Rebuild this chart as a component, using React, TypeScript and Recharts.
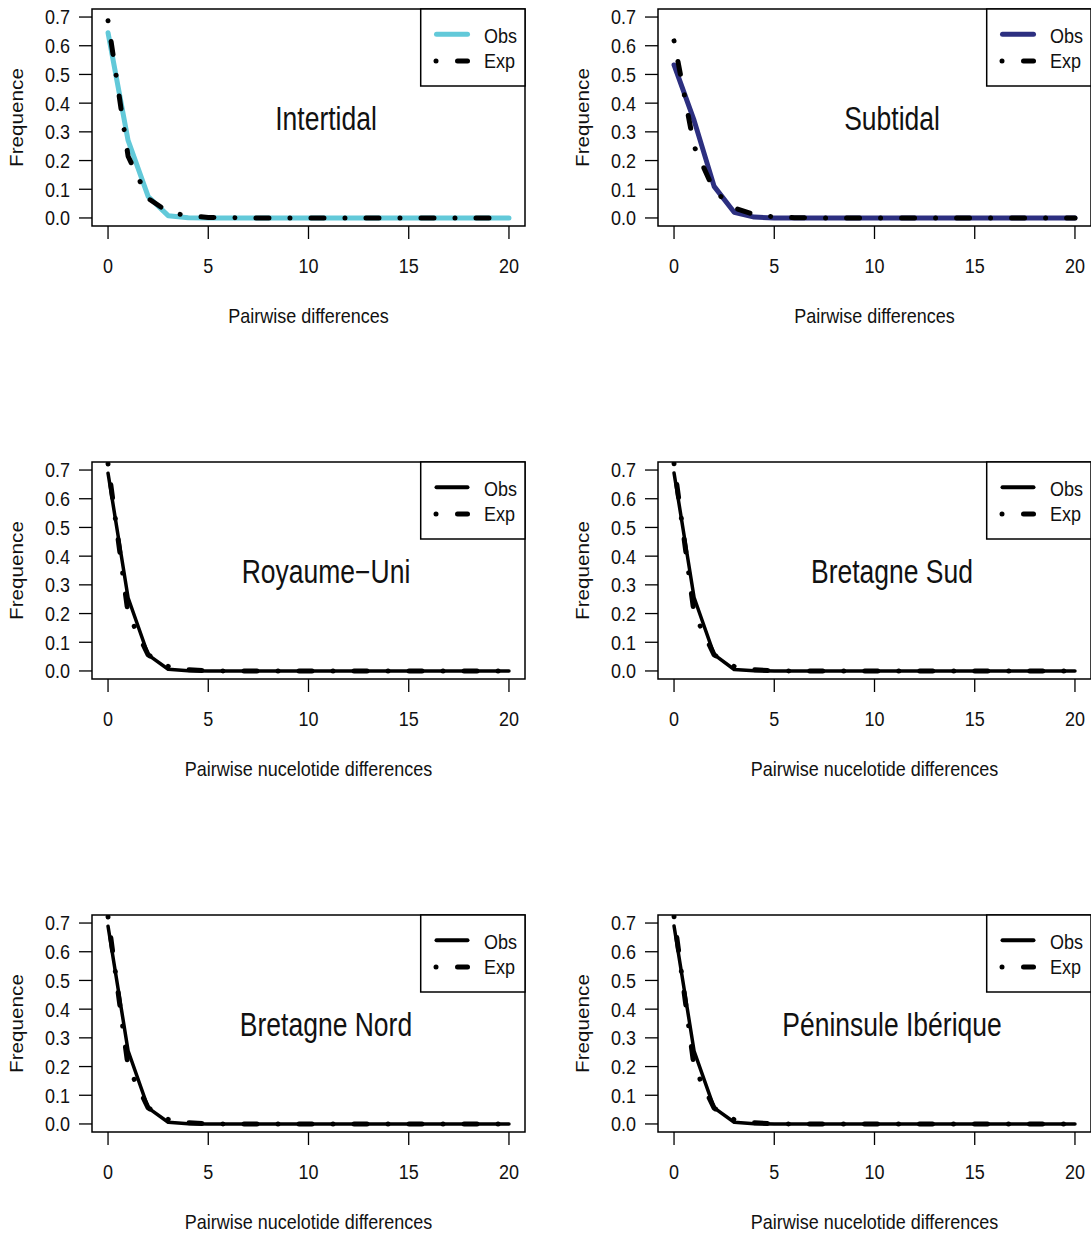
import React from 'react';
import { LineChart, Line, XAxis, YAxis, ReferenceArea } from 'recharts';

// ---------- data ----------
const diffs = [0, 1, 2, 3, 4, 5, 6, 7, 8, 9, 10, 11, 12, 13, 14, 15, 16, 17, 18, 19, 20];
const xTicks = [0, 5, 10, 15, 20];
const yTicks = [0, 0.1, 0.2, 0.3, 0.4, 0.5, 0.6, 0.7];

const intertidalObs = [0.645, 0.27, 0.075, 0.008, 0.001, 0, 0, 0, 0, 0, 0, 0, 0, 0, 0, 0, 0, 0, 0, 0, 0];
const intertidalExp = [0.687, 0.215, 0.068, 0.021, 0.007, 0.002, 0.001, 0, 0, 0, 0, 0, 0, 0, 0, 0, 0, 0, 0, 0, 0];
const subtidalObs = [0.533, 0.34, 0.11, 0.02, 0.003, 0, 0, 0, 0, 0, 0, 0, 0, 0, 0, 0, 0, 0, 0, 0, 0];
const subtidalExp = [0.617, 0.25, 0.095, 0.035, 0.012, 0.004, 0.001, 0, 0, 0, 0, 0, 0, 0, 0, 0, 0, 0, 0, 0, 0];
const royaumeUniObs = [0.689, 0.255, 0.056, 0.006, 0.001, 0, 0, 0, 0, 0, 0, 0, 0, 0, 0, 0, 0, 0, 0, 0, 0];
const royaumeUniExp = [0.721, 0.2, 0.056, 0.016, 0.004, 0.001, 0, 0, 0, 0, 0, 0, 0, 0, 0, 0, 0, 0, 0, 0, 0];
const bretagneSudObs = [0.69, 0.256, 0.057, 0.005, 0.001, 0, 0, 0, 0, 0, 0, 0, 0, 0, 0, 0, 0, 0, 0, 0, 0];
const bretagneSudExp = [0.722, 0.201, 0.056, 0.016, 0.004, 0.001, 0, 0, 0, 0, 0, 0, 0, 0, 0, 0, 0, 0, 0, 0, 0];
const bretagneNordObs = [0.689, 0.255, 0.056, 0.006, 0.001, 0, 0, 0, 0, 0, 0, 0, 0, 0, 0, 0, 0, 0, 0, 0, 0];
const bretagneNordExp = [0.721, 0.2, 0.056, 0.016, 0.004, 0.001, 0, 0, 0, 0, 0, 0, 0, 0, 0, 0, 0, 0, 0, 0, 0];
const peninsuleObs = [0.69, 0.254, 0.056, 0.006, 0.001, 0, 0, 0, 0, 0, 0, 0, 0, 0, 0, 0, 0, 0, 0, 0, 0];
const peninsuleExp = [0.722, 0.199, 0.055, 0.015, 0.004, 0.001, 0, 0, 0, 0, 0, 0, 0, 0, 0, 0, 0, 0, 0, 0, 0];

const panelTitles = ['Intertidal', 'Subtidal', 'Royaume\u2212Uni', 'Bretagne Sud', 'Bretagne Nord', 'Péninsule Ibérique'];
const panelXLabels = [
  'Pairwise differences',
  'Pairwise differences',
  'Pairwise nucelotide differences',
  'Pairwise nucelotide differences',
  'Pairwise nucelotide differences',
  'Pairwise nucelotide differences',
];
const yLabel = 'Frequence';
const legendLabels = ['Obs', 'Exp'];

// ---------- style ----------
const FONT = '"Liberation Sans", Arial, Helvetica, sans-serif';
const SY = 1.15;
const W = 566;
const H = 453;
const PLOT_L = 92;
const PLOT_R = 525;
const PLOT_T = 9;
const PLOT_B = 226;
const EXP_DASH = '0.01 21 13 21';

const XTick = (props: any) => {
  const { x, y, payload } = props;
  return (
    <text
      transform={`translate(${x},${y + 34}) scale(1,${SY})`}
      textAnchor="middle"
      fontFamily={FONT}
      fontSize={18}
      fill="#111"
    >
      {String(payload.value)}
    </text>
  );
};

const YTick = (props: any) => {
  const { x, y, payload } = props;
  return (
    <text
      transform={`translate(${x},${y + 7.4}) scale(1,${SY})`}
      textAnchor="end"
      fontFamily={FONT}
      fontSize={18}
      fill="#111"
    >
      {Number(payload.value).toFixed(1)}
    </text>
  );
};

type PanelProps = {
  left: number;
  top: number;
  title: string;
  xLabel: string;
  obs: number[];
  exp: number[];
  obsColor: string;
  obsWidth: number;
  legendObsWidth: number;
};

function Panel({ left, top, title, xLabel, obs, exp, obsColor, obsWidth, legendObsWidth }: PanelProps) {
  const data = diffs.map((d, i) => ({ x: d, obs: obs[i], exp: exp[i] }));
  const cx = (PLOT_L + PLOT_R) / 2;
  return (
    <div style={{ position: 'absolute', left, top, width: W, height: H }}>
      <LineChart width={W} height={H} data={data} margin={{ top: PLOT_T, right: W - PLOT_R, left: 0, bottom: 0 }}>
        <XAxis
          dataKey="x"
          type="number"
          domain={[-0.8, 20.8]}
          ticks={xTicks}
          interval={0}
          allowDataOverflow
          axisLine={false}
          tickLine={{ stroke: '#000', strokeWidth: 1.3 }}
          tickSize={13}
          tickMargin={0}
          height={H - PLOT_B}
          tick={<XTick />}
        />
        <YAxis
          type="number"
          domain={[-0.028, 0.728]}
          ticks={yTicks}
          interval={0}
          allowDataOverflow
          axisLine={false}
          tickLine={{ stroke: '#000', strokeWidth: 1.3 }}
          tickSize={13}
          tickMargin={9}
          width={PLOT_L}
          tick={<YTick />}
        />
        <ReferenceArea
          x1={-0.8}
          x2={20.8}
          y1={-0.028}
          y2={0.728}
          fill="none"
          fillOpacity={0}
          stroke="#000"
          strokeWidth={1.5}
          ifOverflow="visible"
        />
        <Line
          dataKey="obs"
          type="linear"
          stroke={obsColor}
          strokeWidth={obsWidth}
          strokeLinecap="round"
          strokeLinejoin="round"
          dot={false}
          activeDot={false}
          isAnimationActive={false}
        />
        <Line
          dataKey="exp"
          type="linear"
          stroke="#000"
          strokeWidth={5}
          strokeDasharray={EXP_DASH}
          strokeLinecap="round"
          strokeLinejoin="round"
          dot={false}
          activeDot={false}
          isAnimationActive={false}
        />
      </LineChart>
      <svg
        width={W}
        height={H}
        style={{ position: 'absolute', left: 0, top: 0, pointerEvents: 'none', overflow: 'visible' }}
      >
        {/* title */}
        <text
          transform={`translate(326,130) scale(1,1.22)`}
          textAnchor="middle"
          fontFamily={FONT}
          fontSize={26.5}
          fill="#111"
        >
          {title}
        </text>
        {/* x label */}
        <text
          transform={`translate(${cx},323) scale(1,${SY})`}
          textAnchor="middle"
          fontFamily={FONT}
          fontSize={18}
          fill="#111"
        >
          {xLabel}
        </text>
        {/* y label */}
        <text
          transform={`translate(23,${(PLOT_T + PLOT_B) / 2}) rotate(-90) scale(${SY},1)`}
          textAnchor="middle"
          fontFamily={FONT}
          fontSize={18}
          fill="#111"
        >
          {yLabel}
        </text>
        {/* legend */}
        <rect x={420.7} y={PLOT_T} width={PLOT_R - 420.7} height={86 - PLOT_T} fill="#fff" stroke="#000" strokeWidth={1.5} />
        <line x1={436.5} x2={467.5} y1={34.3} y2={34.3} stroke={obsColor} strokeWidth={legendObsWidth} strokeLinecap="round" />
        <line x1={436} x2={436.01} y1={61} y2={61} stroke="#000" strokeWidth={5} strokeLinecap="round" />
        <line x1={457.5} x2={467.5} y1={61} y2={61} stroke="#000" strokeWidth={5} strokeLinecap="round" />
        <text transform={`translate(484,42.5) scale(1,${SY})`} fontFamily={FONT} fontSize={18} fill="#111">
          {legendLabels[0]}
        </text>
        <text transform={`translate(484,67.5) scale(1,${SY})`} fontFamily={FONT} fontSize={18} fill="#111">
          {legendLabels[1]}
        </text>
      </svg>
    </div>
  );
}

const CYAN = '#62C9D9';
const NAVY = '#2C2F80';

export default function App() {
  const obsSeries = [intertidalObs, subtidalObs, royaumeUniObs, bretagneSudObs, bretagneNordObs, peninsuleObs];
  const expSeries = [intertidalExp, subtidalExp, royaumeUniExp, bretagneSudExp, bretagneNordExp, peninsuleExp];
  const colors = [CYAN, NAVY, '#000', '#000', '#000', '#000'];
  const widths = [5, 5, 3.5, 3.5, 3.5, 3.5];
  const legendWidths = [5, 5, 4, 4, 4, 4];
  return (
    <div
      style={{
        position: 'absolute',
        left: 0,
        top: 0,
        width: 1091,
        height: 1234,
        overflow: 'hidden',
        background: '#fff',
      }}
    >
      {panelTitles.map((t, i) => (
        <Panel
          key={t}
          left={(i % 2) * 566}
          top={Math.floor(i / 2) * 453}
          title={t}
          xLabel={panelXLabels[i]}
          obs={obsSeries[i]}
          exp={expSeries[i]}
          obsColor={colors[i]}
          obsWidth={widths[i]}
          legendObsWidth={legendWidths[i]}
        />
      ))}
    </div>
  );
}
